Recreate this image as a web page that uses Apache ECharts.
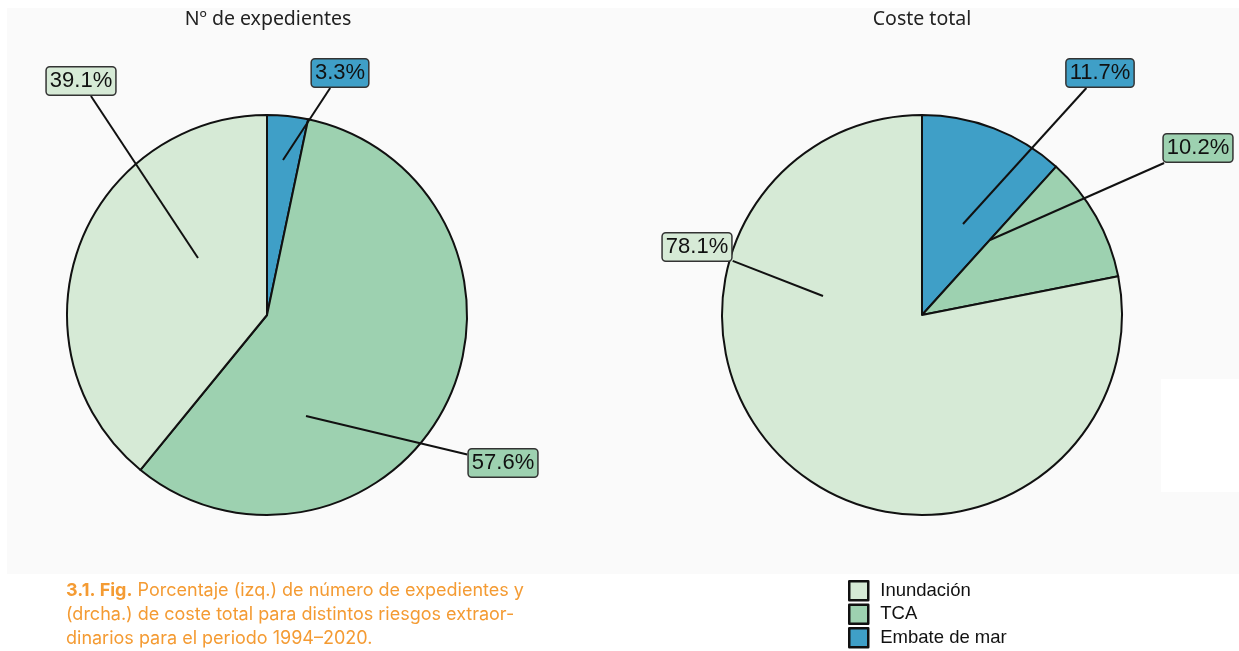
<!DOCTYPE html>
<html>
<head>
<meta charset="utf-8">
<script src="https://cdn.jsdelivr.net/npm/echarts@6/dist/echarts.min.js"></script>
<style>
  html, body { margin: 0; padding: 0; background: #ffffff; }
  #chart { width: 1239px; height: 651px; }
</style>
</head>
<body>
<div id="chart"></div>
<script>
// ---- data ----
const categories = ['Embate de mar', 'TCA', 'Inundación'];        // drawing order (clockwise from 12 o'clock)
const legendOrder = ['Inundación', 'TCA', 'Embate de mar'];
const expedientes = [3.3, 57.6, 39.1];   // % Nº de expedientes
const costeTotal = [11.7, 10.2, 78.1];   // % Coste total
const sliceColors = ['#3f9fc7', '#9dd1b0', '#d6ead6'];
const pieTitles = ['Nº de expedientes', 'Coste total'];

// ---- layout (not data) ----
const R = 200;
const centers = [[267, 315], [922, 315]];
// label box centre offsets from pie centre, per category
const labelOffsets = [
  [[73, -242], [236, 148], [-186, -234]],
  [[178, -242], [276, -167], [-225, -68]]
];
// leader-line start offsets from pie centre, per category
const anchorOffsets = [
  [[16, -155], [39, 101], [-69, -57]],
  [[41, -91], [68, -75], [-99, -19]]
];

function mainPie(values, ci) {
  return {
    type: 'pie',
    center: centers[ci],
    radius: [0, R],
    startAngle: 90,
    clockwise: true,
    silent: true,
    animation: false,
    z: 2,
    label: { show: false },
    labelLine: { show: false },
    itemStyle: { borderColor: '#111', borderWidth: 2 },
    emphasis: { disabled: true },
    data: values.map((v, i) => ({ name: categories[i], value: v, itemStyle: { color: sliceColors[i] } }))
  };
}

function labelPie(values, ci) {
  return {
    type: 'pie',
    center: centers[ci],
    radius: [0, R * 0.5],
    startAngle: 90,
    clockwise: true,
    silent: true,
    animation: false,
    legendHoverLink: false,
    avoidLabelOverlap: false,
    z: 3,
    itemStyle: { color: 'rgba(0,0,0,0)', borderWidth: 0 },
    emphasis: { disabled: true },
    label: {
      show: true,
      position: 'outside',
      formatter: '{c}%',
      fontFamily: 'Liberation Sans',
      fontSize: 22,
      lineHeight: 24,
      color: '#111',
      borderColor: '#333',
      borderWidth: 1.5,
      borderRadius: 3,
      padding: [2, 3, 1, 3]
    },
    labelLine: { show: true, length: 10, length2: 0, smooth: false, lineStyle: { color: '#111', width: 2 } },
    labelLayout: function (p) {
      const c = centers[ci];
      const off = labelOffsets[ci][p.dataIndex];
      const an = anchorOffsets[ci][p.dataIndex];
      const lx = c[0] + off[0], ly = c[1] + off[1];
      const ax = c[0] + an[0], ay = c[1] + an[1];
      const w = p.labelRect.width, h = p.labelRect.height;
      const dx = lx - ax, dy = ly - ay;
      const tx = Math.abs(dx) > 0 ? (Math.abs(dx) - w / 2) / Math.abs(dx) : 0;
      const ty = Math.abs(dy) > 0 ? (Math.abs(dy) - h / 2) / Math.abs(dy) : 0;
      const t = Math.max(0, Math.max(tx, ty));
      const end = [ax + dx * t, ay + dy * t];
      return {
        x: lx, y: ly, align: 'center', verticalAlign: 'middle',
        labelLinePoints: [[ax, ay], end, end]
      };
    },
    data: values.map((v, i) => ({ name: categories[i], value: v, label: { backgroundColor: sliceColors[i] } }))
  };
}

const chart = echarts.init(document.getElementById('chart'), null, { renderer: 'canvas' });
chart.setOption({
  backgroundColor: '#ffffff',
  animation: false,
  legend: {
    data: legendOrder,
    orient: 'vertical',
    left: 848,
    top: 580,
    padding: 0,
    itemWidth: 19,
    itemHeight: 19,
    itemGap: 2,
    icon: 'rect',
    selectedMode: false,
    itemStyle: { borderColor: '#111', borderWidth: 2.5 },
    textStyle: { fontFamily: 'Liberation Sans', fontSize: 18.5, lineHeight: 19, color: '#111', padding: [0, 0, 0, 7] }
  },
  graphic: [
    { type: 'rect', z: -10, shape: { x: 7, y: 8, width: 1232, height: 566 }, style: { fill: '#fafafa' } },
    { type: 'rect', z: -9, shape: { x: 1161, y: 379, width: 78, height: 113 }, style: { fill: '#ffffff' } },
    { type: 'text', x: centers[0][0] + 1, y: 19, style: { text: pieTitles[0], fontFamily: 'Noto Sans', fontSize: 19.5, fill: '#222', align: 'center', verticalAlign: 'middle' } },
    { type: 'text', x: centers[1][0], y: 19, style: { text: pieTitles[1], fontFamily: 'Noto Sans', fontSize: 19.5, fill: '#222', align: 'center', verticalAlign: 'middle' } },
    {
      type: 'text', x: 66, y: 579,
      style: {
        text: '{b|3.1. Fig.} {n|Porcentaje (izq.) de número de expedientes y}\n{n|(drcha.) de coste total para distintos riesgos extraor-}\n{n|dinarios para el periodo 1994–2020.}',
        fontFamily: 'Inter', fontSize: 18, fill: '#f49b33', lineHeight: 24,
        rich: {
          b: { fontFamily: 'Inter', fontSize: 18, fontWeight: 700, fill: '#f49b33', lineHeight: 24 },
          n: { fontFamily: 'Inter', fontSize: 18, fontWeight: 400, fill: '#f49b33', lineHeight: 24 }
        }
      }
    }
  ],
  series: [
    mainPie(expedientes, 0),
    mainPie(costeTotal, 1),
    labelPie(expedientes, 0),
    labelPie(costeTotal, 1)
  ]
});
</script>
</body>
</html>
